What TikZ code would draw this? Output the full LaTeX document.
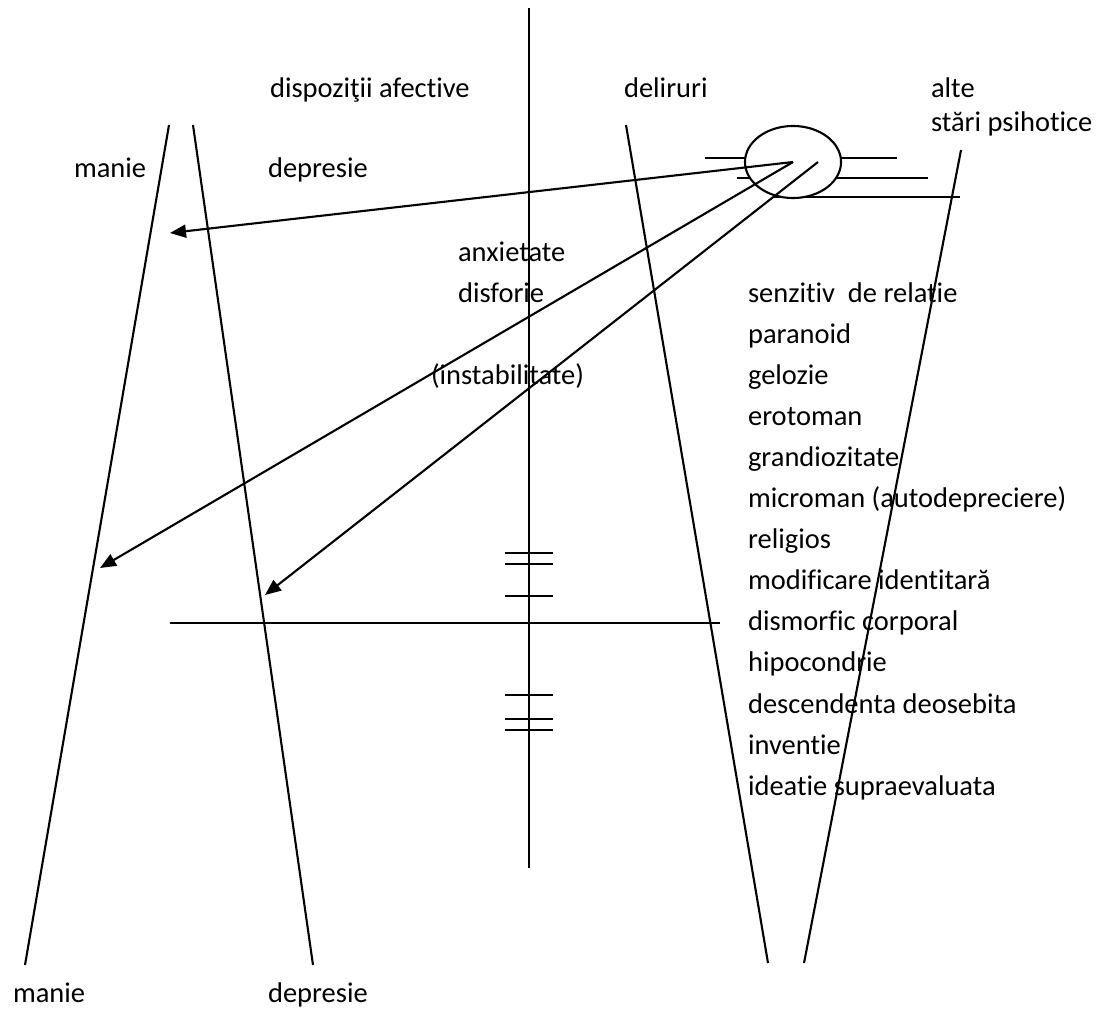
\documentclass[tikz,border=0pt]{standalone}
\usepackage{fontspec}
\setmainfont[Ligatures={NoCommon,NoContextual}]{Carlito}
\usetikzlibrary{arrows.meta,shapes.geometric}
\begin{document}
\begin{tikzpicture}[x=0.01cm,y=-0.01cm,line join=round,line width=0.6pt,
	lbl/.style={anchor=base west,inner sep=0pt,font=\fontsize{8.1}{9.7}\selectfont},
	arr/.style={-{Triangle[length=0.16cm,width=0.13cm]}}]
	\useasboundingbox (0,0) rectangle (1110,1009) ;
	\coordinate (T) at (529,8) ; \coordinate (B) at (529,868) ;
	\coordinate (H1) at (170,623) ; \coordinate (H2) at (720,623) ;
	\coordinate (M1) at (169,125) ; \coordinate (M2) at (25,965) ;
	\coordinate (D1) at (193,125) ; \coordinate (D2) at (313,965) ;
	\coordinate (L1) at (626,125) ; \coordinate (L2) at (768,963) ;
	\coordinate (P1) at (961,150) ; \coordinate (P2) at (804,963) ;
	\draw (T) -- (B) (H1) -- (H2) ;
	\draw (M1) -- (M2) (D1) -- (D2) (L1) -- (L2) (P1) -- (P2) ;
	\foreach \y in {553,564,596,695,719,730} \draw (505,\y) -- (553,\y) ;
	% lines behind the ellipse
	\draw (705,158) -- (897,158) (737,178) -- (928,178) (773,197) -- (960,197) ;
	\node[ellipse,draw,fill=white,minimum width=0.96cm,minimum height=0.72cm,inner sep=0pt] (ell) at (793,162) {} ;
	\coordinate (S1) at (793,162) ; \coordinate (S2) at (818,162) ;
	\coordinate (E1) at (170,233) ; \coordinate (E2) at (100,568) ; \coordinate (E3) at (265,595) ;
	\draw[arr] (S1) -- (E1) ;
	\draw[arr] (S1) -- (E2) ;
	\draw[arr] (S2) -- (E3) ;
	\node[lbl] (dispo) at (269,97) {dispoziţii afective} ;
	\node[lbl] (delir) at (623,97) {deliruri} ;
	\node[lbl] (alte) at (930,97) {alte} ;
	\node[lbl] (stari) at (930,131) {stări psihotice} ;
	\node[lbl] (manie) at (73,177) {manie} ;
	\node[lbl] (depr) at (267,177) {depresie} ;
	\node[lbl] (anx) at (457,261) {anxietate} ;
	\node[lbl] (disf) at (457,302) {disforie} ;
	\node[lbl] (inst) at (430,384) {(instabilitate)} ;
	\node[lbl] (maniejos) at (12,1002) {manie} ;
	\node[lbl] (deprjos) at (267,1002) {depresie} ;
	\foreach \Text [count=\k from 0] in {senzitiv\ \ de relatie,paranoid,gelozie,erotoman,grandiozitate,microman (autodepreciere),religios,modificare identitară,dismorfic corporal,hipocondrie,descendenta deosebita,inventie,ideatie supraevaluata}
		\node[lbl] (d\k) at (747,{302+41.1*\k}) {\Text} ;
\end{tikzpicture}
\end{document}
